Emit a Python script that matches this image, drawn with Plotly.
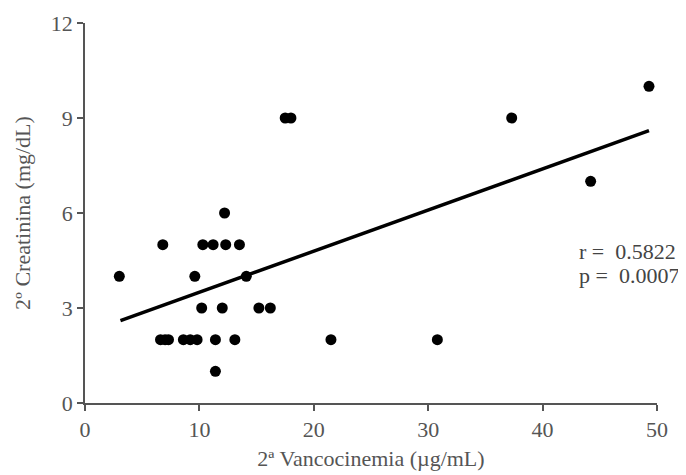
import plotly.graph_objects as go

# Data
vanco = [3.0, 6.8, 9.6, 12.2, 10.3, 11.2, 12.3, 13.5, 14.1, 10.2, 12.0, 15.2, 16.2,
         6.6, 7.0, 7.3, 8.6, 9.2, 9.8, 11.4, 13.1, 11.4, 17.5, 18.0, 37.3, 49.3, 44.2, 21.5, 30.8]
creat = [4, 5, 4, 6, 5, 5, 5, 5, 4, 3, 3, 3, 3,
         2, 2, 2, 2, 2, 2, 2, 2, 1, 9, 9, 9, 10, 7, 2, 2]
fit_x = [3.1, 49.3]
fit_y = [2.6, 8.6]
x_ticks = [0, 10, 20, 30, 40, 50]
y_ticks = [0, 3, 6, 9, 12]
stats_text = ["r =  0.5822", "p =  0.0007"]

FONT = "Liberation Serif, Times New Roman, serif"

fig = go.Figure()
fig.add_trace(go.Scatter(x=vanco, y=creat, mode="markers",
                         marker=dict(color="black", size=11),
                         cliponaxis=False, showlegend=False))
fig.add_trace(go.Scatter(x=fit_x, y=fit_y, mode="lines",
                         line=dict(color="black", width=3.5),
                         showlegend=False))

fig.add_annotation(x=43.0, y=4.77, xref="x", yref="y", text=stats_text[0],
                   showarrow=False, xanchor="left", yanchor="middle",
                   font=dict(family=FONT, size=22, color="#444"))
fig.add_annotation(x=43.0, y=4.02, xref="x", yref="y", text=stats_text[1],
                   showarrow=False, xanchor="left", yanchor="middle",
                   font=dict(family=FONT, size=22, color="#444"))

axis_common = dict(showgrid=False, zeroline=False, showline=True,
                   linecolor="#555", linewidth=1.5, ticks="outside",
                   tickcolor="#555", tickwidth=1.5, ticklen=6,
                   automargin=False,
                   tickfont=dict(family=FONT, size=22, color="#555"),
                   title_font=dict(family=FONT, size=22, color="#555"))

fig.update_xaxes(range=[0, 50], tickvals=x_ticks,
                 title_text="2ª Vancocinemia (µg/mL)", title_standoff=9,
                 **axis_common)
fig.update_yaxes(range=[0, 12], tickvals=y_ticks,
                 title_text="2º Creatinina (mg/dL)", title_standoff=14,
                 **axis_common)

# The page body adds an 8px offset; margins compensate so the plot area
# sits where it does in the reference.
fig.update_layout(width=686, height=475,
                  margin=dict(l=77, r=37, t=15, b=80),
                  plot_bgcolor="white", paper_bgcolor="white")

fig.write_html("out.html")
